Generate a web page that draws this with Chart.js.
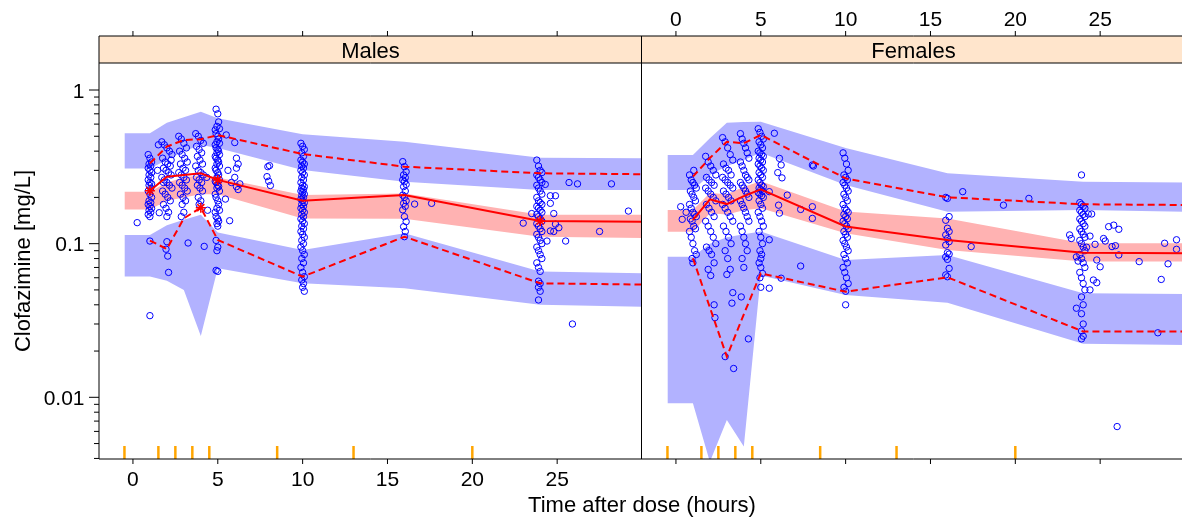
<!DOCTYPE html>
<html>
<head>
<meta charset="utf-8">
<script src="https://cdn.jsdelivr.net/npm/chart.js@4/dist/chart.umd.min.js"></script>
<style>
html,body{margin:0;padding:0;background:#fff;overflow:hidden;width:1182px;height:520px;}
#wrap{position:relative;width:1182px;height:520px;overflow:hidden;}
canvas{position:absolute;top:0;}
#cL{left:0;}
#cR{left:642px;}
</style>
</head>
<body>
<div id="wrap">
<canvas id="cL" width="1182" height="520" style="width:1182px;height:520px"></canvas>
<canvas id="cR" width="543" height="520" style="width:543px;height:520px"></canvas>
</div>
<script>
// ---------------- DATA ----------------
const panelNames = ['Males', 'Females'];
const xTitle = 'Time after dose (hours)';
const yTitle = 'Clofazimine [mg/L]';
const xTicks = [0, 5, 10, 15, 20, 25];
const yMajorTicks = [0.01, 0.1, 1];
const yMajorLabels = ['0.01', '0.1', '1'];
const yMinorTicks = [0.004,0.005,0.006,0.007,0.008,0.009,0.02,0.03,0.04,0.05,0.06,0.07,0.08,0.09,0.2,0.3,0.4,0.5,0.6,0.7,0.8,0.9];
const binEdges = [-0.5, 1.5, 2.5, 3.5, 4.5, 8.5, 13, 20];

// simulated prediction-interval bands (time nodes)
const vpcTimes = [-0.5, 1, 2, 3, 4, 5, 10, 16, 24, 30];
const malesHiBandLo  = [0.309, 0.309, 0.35, 0.40, 0.439, 0.42, 0.302, 0.253, 0.2235, 0.2235];
const malesHiBandHi  = [0.523, 0.523, 0.613, 0.665, 0.723, 0.654, 0.515, 0.461, 0.363, 0.36];
const malesMedBandLo = [0.167, 0.167, 0.19, 0.20, 0.21, 0.21, 0.146, 0.145, 0.111, 0.109];
const malesMedBandHi = [0.218, 0.218, 0.25, 0.27, 0.28, 0.27, 0.207, 0.212, 0.154, 0.154];
const malesLoBandLo  = [0.0611, 0.0611, 0.0574, 0.050, 0.0251, 0.0692, 0.0552, 0.0513, 0.040, 0.0389];
const malesLoBandHi  = [0.114, 0.114, 0.132, 0.143, 0.154, 0.118, 0.091, 0.117, 0.066, 0.0641];

const femalesHiBandLo  = [0.2235, 0.2235, 0.28, 0.32, 0.35, 0.39, 0.241, 0.1615, 0.1656, 0.1615];
const femalesHiBandHi  = [0.378, 0.378, 0.485, 0.613, 0.619, 0.622, 0.42, 0.287, 0.253, 0.2496];
const femalesMedBandLo = [0.1197, 0.1197, 0.158, 0.155, 0.165, 0.17, 0.1169, 0.091, 0.0764, 0.0764];
const femalesMedBandHi = [0.1657, 0.1657, 0.2135, 0.21, 0.235, 0.255, 0.162, 0.146, 0.1006, 0.1006];
const femalesLoBandLo  = [0.00916, 0.00916, 0.0038, 0.00713, 0.00478, 0.062, 0.0464, 0.0413, 0.0223, 0.0219];
const femalesLoBandHi  = [0.0823, 0.0823, 0.10, 0.11, 0.115, 0.12, 0.0783, 0.0844, 0.0475, 0.0471];

// observed percentiles
const obsTimes = [1, 2, 3, 4, 5, 10, 16, 24, 30];
const malesMedian = [0.221, 0.273, 0.28, 0.287, 0.26, 0.19, 0.207, 0.1405, 0.139];
const malesP95    = [0.333, 0.428, 0.473, 0.478, 0.509, 0.383, 0.317, 0.287, 0.283];
const malesP05    = [0.1046, 0.0924, 0.146, 0.1715, 0.1057, 0.061, 0.111, 0.0552, 0.0542];
const femalesMedian = [0.1426, 0.1944, 0.181, 0.204, 0.226, 0.1293, 0.1057, 0.0874, 0.0866];
const femalesP95    = [0.273, 0.361, 0.461, 0.45, 0.51, 0.266, 0.2004, 0.1804, 0.1785];
const femalesP05    = [0.0803, 0.0384, 0.0184, 0.0347, 0.0641, 0.0487, 0.0604, 0.0268, 0.0268];

// flagged observed percentiles (asterisks)
const malesStars = [[1, 0.221], [4, 0.1715], [5, 0.26], [24, 0.1405]];
const femalesStars = [];

// observed concentrations [time, conc]
const malesObs = [
[0.9,0.38],[1.0,0.36],[1.1,0.34],[0.95,0.33],[1.05,0.32],[0.9,0.31],[1.0,0.3],[1.1,0.29],[0.95,0.28],[1.05,0.27],[0.9,0.26],[1.0,0.25],[1.1,0.245],[0.95,0.24],[1.05,0.23],[0.9,0.22],[1.0,0.21],[1.1,0.2],[0.95,0.19],[1.05,0.185],[0.9,0.18],[1.0,0.175],[1.1,0.17],[0.95,0.165],[1.05,0.16],[0.9,0.155],[1.0,0.15],[1.0,0.104],[1.0,0.034],[0.25,0.137],
[1.5,0.44],[1.55,0.159],[1.45,0.3],
[1.7,0.46],[1.85,0.44],[2.0,0.42],[2.15,0.4],[2.3,0.38],[1.75,0.36],[1.9,0.34],[2.05,0.33],[2.2,0.32],[1.8,0.31],[1.95,0.3],[2.1,0.29],[2.25,0.28],[1.7,0.27],[1.85,0.26],[2.0,0.25],[2.15,0.24],[2.3,0.23],[1.75,0.22],[1.9,0.21],[2.05,0.2],[2.2,0.19],[1.8,0.18],[1.95,0.17],[2.1,0.16],[2.0,0.15],[2.0,0.103],[1.95,0.092],[2.05,0.083],[2.1,0.065],[2.25,0.35],[1.8,0.25],
[2.7,0.5],[2.85,0.48],[3.0,0.45],[3.15,0.42],[2.75,0.4],[2.9,0.38],[3.05,0.36],[3.2,0.34],[2.8,0.33],[2.95,0.31],[3.1,0.3],[2.7,0.29],[2.85,0.28],[3.0,0.27],[3.15,0.26],[2.75,0.25],[2.9,0.24],[3.05,0.23],[3.2,0.22],[2.8,0.21],[2.95,0.2],[3.1,0.19],[2.9,0.18],[3.0,0.16],[2.85,0.15],[3.25,0.101],
[3.7,0.52],[3.85,0.5],[4.0,0.47],[4.15,0.45],[3.75,0.43],[3.9,0.41],[4.05,0.39],[3.8,0.37],[3.95,0.35],[4.1,0.33],[3.7,0.32],[3.85,0.3],[4.0,0.29],[4.15,0.28],[3.75,0.27],[3.9,0.26],[4.05,0.25],[3.8,0.24],[3.95,0.23],[4.1,0.22],[3.85,0.2],[4.0,0.19],[3.9,0.18],[4.2,0.096],[4.4,0.165],[4.35,0.27],
[4.9,0.75],[5.0,0.7],[5.05,0.62],[4.95,0.58],[5.1,0.56],[4.85,0.55],[4.9,0.52],[5.0,0.5],[5.05,0.48],[4.95,0.46],[5.1,0.45],[4.85,0.44],[4.9,0.42],[5.0,0.41],[5.05,0.4],[4.95,0.39],[5.1,0.38],[4.85,0.37],[4.9,0.36],[5.0,0.35],[5.05,0.34],[4.95,0.33],[5.1,0.32],[4.85,0.31],[4.9,0.3],[5.0,0.29],[5.05,0.28],[4.95,0.27],[5.1,0.26],[4.85,0.255],[4.9,0.25],[5.0,0.24],[5.05,0.235],[4.95,0.23],[5.1,0.22],[4.85,0.21],[4.9,0.2],[5.0,0.19],[5.05,0.18],[4.95,0.17],[5.1,0.165],[4.85,0.16],[4.9,0.15],[5.0,0.145],[5.05,0.14],[4.95,0.135],[5.0,0.13],[4.9,0.105],[5.0,0.095],[4.95,0.09],[4.9,0.067],[5.0,0.066],
[5.5,0.51],[6.0,0.455],[6.1,0.36],[6.2,0.33],[6.1,0.31],[6.0,0.27],[6.1,0.235],[6.2,0.225],[5.45,0.195],[5.7,0.141],[5.6,0.3],[5.8,0.25],[6.3,0.245],
[7.95,0.317],[8.05,0.322],[7.9,0.273],[8.0,0.255],[8.1,0.239],
[9.9,0.45],[10.0,0.43],[10.1,0.41],[9.95,0.39],[10.05,0.37],[9.9,0.35],[10.0,0.34],[10.1,0.33],[9.95,0.32],[10.05,0.31],[9.9,0.3],[10.0,0.29],[10.1,0.28],[9.95,0.27],[10.05,0.26],[9.9,0.25],[10.0,0.24],[10.1,0.235],[9.95,0.23],[10.05,0.225],[9.9,0.22],[10.0,0.215],[10.1,0.21],[9.95,0.205],[10.05,0.2],[9.9,0.195],[10.0,0.19],[10.1,0.185],[9.95,0.18],[10.05,0.175],[9.9,0.17],[10.0,0.165],[10.1,0.16],[9.95,0.155],[10.05,0.15],[9.9,0.145],[10.0,0.14],[10.1,0.135],[9.95,0.13],[10.05,0.125],[9.9,0.12],[10.0,0.115],[10.1,0.11],[9.95,0.105],[10.05,0.1],[9.9,0.095],[10.0,0.09],[10.1,0.085],[9.95,0.08],[10.05,0.075],[9.9,0.07],[10.0,0.065],[10.1,0.061],[9.95,0.058],[10.05,0.055],[10.0,0.052],[10.1,0.049],
[15.9,0.342],[16.0,0.317],[16.1,0.294],[15.95,0.28],[16.05,0.269],[15.9,0.26],[16.0,0.253],[16.1,0.243],[15.95,0.235],[16.05,0.22],[15.9,0.207],[16.0,0.2],[16.1,0.19],[15.95,0.183],[16.05,0.175],[15.9,0.166],[16.0,0.15],[16.1,0.139],[15.95,0.129],[16.05,0.12],[16.0,0.111],[16.6,0.181],[17.6,0.183],
[23.8,0.35],[23.9,0.32],[24.0,0.3],[24.1,0.29],[23.8,0.28],[23.9,0.27],[24.0,0.26],[24.1,0.25],[23.8,0.24],[23.9,0.23],[24.0,0.22],[24.1,0.21],[23.8,0.2],[23.9,0.19],[24.0,0.185],[24.1,0.18],[23.8,0.175],[23.9,0.17],[24.0,0.165],[24.1,0.16],[23.8,0.155],[23.9,0.15],[24.0,0.145],[24.1,0.14],[23.8,0.135],[23.9,0.13],[24.0,0.125],[24.1,0.12],[23.8,0.115],[23.9,0.11],[24.0,0.105],[24.1,0.1],[23.8,0.095],[23.9,0.09],[24.0,0.085],[24.1,0.08],[23.8,0.075],[23.9,0.07],[24.0,0.066],[23.9,0.057],[24.0,0.055],[23.9,0.052],[24.0,0.049],[23.9,0.043],
[23.0,0.136],[23.5,0.157],[24.6,0.205],[24.9,0.205],[24.6,0.183],[24.8,0.157],[24.3,0.243],[24.9,0.134],[25.1,0.127],[24.6,0.121],[24.8,0.12],[24.4,0.104],[25.5,0.104],[25.7,0.25],[26.2,0.245],[28.2,0.245],[27.5,0.12],[29.2,0.163],[25.9,0.030]
];

const femalesObs = [
[0.8,0.28],[0.9,0.26],[1.0,0.25],[1.1,0.24],[1.2,0.23],[0.85,0.22],[0.95,0.21],[1.05,0.2],[1.15,0.19],[0.8,0.18],[0.9,0.17],[1.0,0.16],[1.1,0.155],[1.2,0.15],[0.85,0.145],[0.95,0.14],[1.05,0.13],[1.15,0.125],[0.8,0.12],[0.9,0.11],[1.0,0.1],[1.1,0.09],[1.2,0.085],[0.95,0.08],[1.0,0.075],[1.05,0.3],
[0.28,0.174],[0.37,0.144],[0.6,0.16],
[1.75,0.37],[1.9,0.34],[2.05,0.32],[2.2,0.3],[2.35,0.28],[1.8,0.27],[1.95,0.26],[2.1,0.25],[2.25,0.24],[1.75,0.23],[1.9,0.22],[2.05,0.21],[2.2,0.2],[2.35,0.19],[1.8,0.18],[1.95,0.17],[2.1,0.16],[2.25,0.15],[1.75,0.14],[1.9,0.13],[2.05,0.12],[2.2,0.11],[2.35,0.1],[1.8,0.095],[1.95,0.09],[2.1,0.085],[2.25,0.075],[1.9,0.068],[2.05,0.062],[2.25,0.04],[2.3,0.033],
[2.75,0.49],[2.9,0.46],[3.05,0.42],[3.2,0.38],[3.35,0.35],[2.8,0.33],[2.95,0.31],[3.1,0.3],[3.25,0.28],[2.75,0.27],[2.9,0.26],[3.05,0.25],[3.2,0.24],[3.35,0.23],[2.8,0.22],[2.95,0.21],[3.1,0.2],[3.25,0.19],[2.75,0.18],[2.9,0.17],[3.05,0.16],[3.2,0.15],[3.35,0.14],[2.8,0.13],[2.95,0.12],[3.1,0.11],[3.25,0.1],[2.9,0.09],[3.05,0.08],[3.2,0.068],[3.0,0.063],[3.35,0.048],[3.3,0.041],[2.9,0.0184],[3.4,0.0154],
[3.8,0.52],[3.9,0.48],[4.0,0.45],[4.1,0.42],[4.2,0.39],[4.3,0.36],[3.8,0.34],[3.9,0.32],[4.0,0.3],[4.1,0.28],[4.2,0.27],[4.3,0.26],[3.8,0.25],[3.9,0.24],[4.0,0.23],[4.1,0.22],[4.2,0.21],[4.3,0.2],[3.8,0.19],[3.9,0.18],[4.0,0.17],[4.1,0.16],[4.2,0.15],[4.3,0.14],[3.8,0.13],[3.9,0.12],[4.0,0.11],[4.1,0.1],[4.2,0.09],[3.9,0.08],[4.0,0.07],[3.85,0.045],[4.27,0.024],
[4.85,0.56],[4.95,0.53],[5.05,0.5],[5.15,0.48],[4.9,0.46],[5.0,0.44],[5.1,0.42],[4.85,0.4],[4.95,0.39],[5.05,0.38],[5.15,0.37],[4.9,0.36],[5.0,0.35],[5.1,0.34],[4.85,0.33],[4.95,0.32],[5.05,0.31],[5.15,0.3],[4.9,0.29],[5.0,0.28],[5.1,0.27],[4.85,0.26],[4.95,0.25],[5.05,0.24],[5.15,0.235],[4.9,0.23],[5.0,0.225],[5.1,0.22],[4.85,0.215],[4.95,0.21],[5.05,0.205],[5.15,0.2],[4.9,0.19],[5.0,0.18],[5.1,0.17],[4.85,0.16],[4.95,0.15],[5.05,0.14],[5.15,0.13],[4.9,0.12],[5.0,0.11],[5.1,0.1],[4.95,0.09],[5.05,0.085],[5.0,0.08],[4.9,0.075],[5.0,0.07],[5.1,0.064],[4.95,0.06],[5.0,0.052],
[5.5,0.218],[5.8,0.523],[6.1,0.359],[6.2,0.325],[6.25,0.268],[6.05,0.178],[6.1,0.158],[6.56,0.207],[5.5,0.106],[5.5,0.0513],[6.2,0.0596],[7.35,0.167],[7.35,0.0715],[8.04,0.325],[8.1,0.32],[8.04,0.174],[8.04,0.146],[6.0,0.29],
[9.85,0.39],[9.95,0.36],[10.05,0.33],[10.15,0.3],[9.9,0.28],[10.0,0.27],[10.1,0.26],[9.85,0.25],[9.95,0.24],[10.05,0.23],[10.15,0.22],[9.9,0.21],[10.0,0.2],[10.1,0.19],[9.85,0.18],[9.95,0.17],[10.05,0.165],[10.15,0.16],[9.9,0.155],[10.0,0.15],[10.1,0.145],[9.85,0.14],[9.95,0.135],[10.05,0.13],[10.15,0.125],[9.9,0.12],[10.0,0.115],[10.1,0.11],[9.85,0.105],[9.95,0.1],[10.05,0.095],[10.15,0.09],[9.9,0.085],[10.0,0.08],[10.1,0.075],[9.85,0.07],[9.95,0.065],[10.05,0.06],[10.15,0.055],[9.9,0.052],[10.0,0.049],[10.0,0.04],
[15.9,0.2],[16.0,0.197],[16.1,0.15],[15.9,0.142],[16.0,0.126],[16.1,0.12],[15.9,0.114],[16.0,0.108],[16.1,0.103],[15.9,0.098],[16.0,0.0874],[16.1,0.0856],[15.9,0.082],[16.0,0.079],[16.1,0.069],[15.9,0.0626],[16.0,0.0609],
[16.9,0.218],[17.4,0.0957],[19.3,0.178],[20.8,0.197],
[23.9,0.28],[23.8,0.185],[23.9,0.18],[24.0,0.175],[24.1,0.17],[23.8,0.165],[23.9,0.16],[24.0,0.155],[24.1,0.15],[23.8,0.145],[23.9,0.14],[24.0,0.135],[24.1,0.13],[23.8,0.125],[23.9,0.12],[24.0,0.115],[24.1,0.11],[23.8,0.105],[23.9,0.1],[24.0,0.095],[24.1,0.09],[23.8,0.085],[23.9,0.08],[24.0,0.075],[24.1,0.07],[23.8,0.065],[23.9,0.06],[24.0,0.055],[24.1,0.05],[23.9,0.045],[24.0,0.04],[23.9,0.035],[24.0,0.03],[23.9,0.027],[24.0,0.025],[23.9,0.024],
[23.2,0.114],[23.3,0.108],[23.6,0.082],[23.6,0.038],[23.7,0.077],[24.2,0.0948],[24.4,0.112],[24.5,0.156],[24.3,0.156],[24.8,0.0783],[25.0,0.0707],[24.7,0.099],[24.8,0.0557],[24.6,0.058],[24.4,0.05],[25.2,0.108],[25.3,0.104],[25.5,0.129],[25.8,0.132],[26.1,0.124],[25.7,0.0957],[25.9,0.097],[26.1,0.0844],[27.3,0.0764],[28.8,0.1006],[29.5,0.106],[29.5,0.0919],[29.0,0.0739],[28.6,0.0585],[28.4,0.0263],[26.0,0.00645]
];

// ---------------- STYLE ----------------
const BLUE_BAND = 'rgb(178,178,255)';
const PINK_BAND = 'rgb(255,178,178)';
const RED = '#FF0000';
const PT_BLUE = '#0000FF';
const RUG = '#FFA500';
const STRIP_BG = '#FFE5CC';
const FONT = '"Liberation Sans", Arial, Helvetica, sans-serif';
const STRIP_TOP = 36;
const Y_MIN = 0.003967, Y_MAX = 1.499;

function pairs(xs, ys) { return xs.map((x, i) => ({ x: x, y: ys[i] })); }
function pts(arr) { return arr.map(p => ({ x: p[0], y: p[1] })); }

function panelDatasets(p) {
  const edge = { type: 'line', borderWidth: 0, borderColor: 'rgba(0,0,0,0)', pointRadius: 0, tension: 0, order: 10 };
  return [
    Object.assign({}, edge, { data: pairs(vpcTimes, p.hiLo), fill: false }),
    Object.assign({}, edge, { data: pairs(vpcTimes, p.hiHi), fill: { target: 0 }, backgroundColor: BLUE_BAND }),
    Object.assign({}, edge, { data: pairs(vpcTimes, p.loLo), fill: false }),
    Object.assign({}, edge, { data: pairs(vpcTimes, p.loHi), fill: { target: 2 }, backgroundColor: BLUE_BAND }),
    Object.assign({}, edge, { data: pairs(vpcTimes, p.medLo), fill: false }),
    Object.assign({}, edge, { data: pairs(vpcTimes, p.medHi), fill: { target: 4 }, backgroundColor: PINK_BAND }),
    { type: 'scatter', data: pts(p.obs), pointStyle: 'circle', pointRadius: 3.2, borderWidth: 1,
      borderColor: PT_BLUE, backgroundColor: 'rgba(0,0,0,0)', order: 5 },
    { type: 'line', data: pairs(obsTimes, p.med), borderColor: RED, borderWidth: 2, pointRadius: 0, fill: false, tension: 0, order: 2 },
    { type: 'line', data: pairs(obsTimes, p.p95), borderColor: RED, borderWidth: 2, borderDash: [7, 4], pointRadius: 0, fill: false, tension: 0, order: 2 },
    { type: 'line', data: pairs(obsTimes, p.p05), borderColor: RED, borderWidth: 2, borderDash: [7, 4], pointRadius: 0, fill: false, tension: 0, order: 2 },
    { type: 'scatter', data: pts(p.stars), pointStyle: 'star', pointRadius: 5, borderWidth: 1.5,
      borderColor: RED, backgroundColor: RED, order: 1 }
  ];
}

function seg(ctx, x1, y1, x2, y2) { ctx.beginPath(); ctx.moveTo(x1, y1); ctx.lineTo(x2, y2); ctx.stroke(); }

const latticePlugin = {
  id: 'lattice',
  afterDatasetsDraw(chart, args, o) {
    const ctx = chart.ctx, a = chart.chartArea;
    const xs = chart.scales.x, ys = chart.scales.y;
    ctx.save();
    // rug of bin boundaries
    ctx.strokeStyle = RUG; ctx.lineWidth = 2.5;
    binEdges.forEach(b => { const px = xs.getPixelForValue(b); seg(ctx, px, a.bottom - 13, px, a.bottom); });
    // strip
    ctx.fillStyle = STRIP_BG;
    ctx.fillRect(a.left, STRIP_TOP, a.right - a.left, a.top - STRIP_TOP);
    ctx.strokeStyle = '#000'; ctx.lineWidth = 1;
    seg(ctx, a.left, STRIP_TOP, a.right, STRIP_TOP);
    seg(ctx, a.left, a.top, a.right, a.top);
    ctx.fillStyle = '#000';
    ctx.font = '22px ' + FONT; ctx.textAlign = 'center'; ctx.textBaseline = 'alphabetic';
    ctx.fillText(o.strip, (a.left + a.right) / 2, 57.5);
    // frame
    ctx.strokeStyle = '#000'; ctx.lineWidth = 1;
    seg(ctx, a.left, a.bottom, a.right, a.bottom);
    if (o.side === 'left') {
      seg(ctx, a.left, STRIP_TOP, a.left, a.bottom);
      seg(ctx, a.right - 0.5, STRIP_TOP, a.right - 0.5, a.bottom);
    }
    // x ticks (top and bottom)
    ctx.font = '21px ' + FONT; ctx.textAlign = 'center';
    xTicks.forEach(v => {
      const px = xs.getPixelForValue(v);
      seg(ctx, px, a.bottom, px, a.bottom + 5);
      seg(ctx, px, STRIP_TOP, px, STRIP_TOP - 5);
      if (o.side === 'left') ctx.fillText(String(v), px, 486);
      else ctx.fillText(String(v), px, 26);
    });
    if (o.side === 'left') {
      // y axis ticks
      yMinorTicks.forEach(v => { const py = ys.getPixelForValue(v); seg(ctx, a.left - 5, py, a.left, py); });
      ctx.textAlign = 'right';
      yMajorTicks.forEach((v, i) => {
        const py = ys.getPixelForValue(v);
        seg(ctx, a.left - 10, py, a.left, py);
        ctx.fillText(yMajorLabels[i], a.left - 14.5, py + 7.5);
      });
      // axis titles
      ctx.font = '22px ' + FONT; ctx.textAlign = 'center';
      ctx.fillText(xTitle, 642, 512);
      ctx.save();
      ctx.translate(30, 261);
      ctx.rotate(-Math.PI / 2);
      ctx.fillText(yTitle, 0, 0);
      ctx.restore();
    }
    ctx.restore();
  }
};

function makeChart(id, p, side, padding) {
  return new Chart(document.getElementById(id), {
    type: 'line',
    data: { datasets: panelDatasets(p) },
    options: {
      responsive: false,
      animation: false,
      events: [],
      layout: { padding: padding, autoPadding: false },
      scales: {
        x: { type: 'linear', min: -2, max: 30, display: false },
        y: { type: 'logarithmic', min: Y_MIN, max: Y_MAX, display: false }
      },
      plugins: {
        legend: { display: false },
        tooltip: { enabled: false },
        lattice: { side: side, strip: p.name }
      }
    },
    plugins: [latticePlugin]
  });
}

makeChart('cL', {
  name: panelNames[0], hiLo: malesHiBandLo, hiHi: malesHiBandHi, loLo: malesLoBandLo, loHi: malesLoBandHi,
  medLo: malesMedBandLo, medHi: malesMedBandHi, obs: malesObs, med: malesMedian, p95: malesP95, p05: malesP05, stars: malesStars
}, 'left', { left: 99, right: 540, top: 63, bottom: 61 });

makeChart('cR', {
  name: panelNames[1], hiLo: femalesHiBandLo, hiHi: femalesHiBandHi, loLo: femalesLoBandLo, loHi: femalesLoBandHi,
  medLo: femalesMedBandLo, medHi: femalesMedBandHi, obs: femalesObs, med: femalesMedian, p95: femalesP95, p05: femalesP05, stars: femalesStars
}, 'right', { left: 0, right: 0, top: 63, bottom: 61 });
</script>
</body>
</html>
